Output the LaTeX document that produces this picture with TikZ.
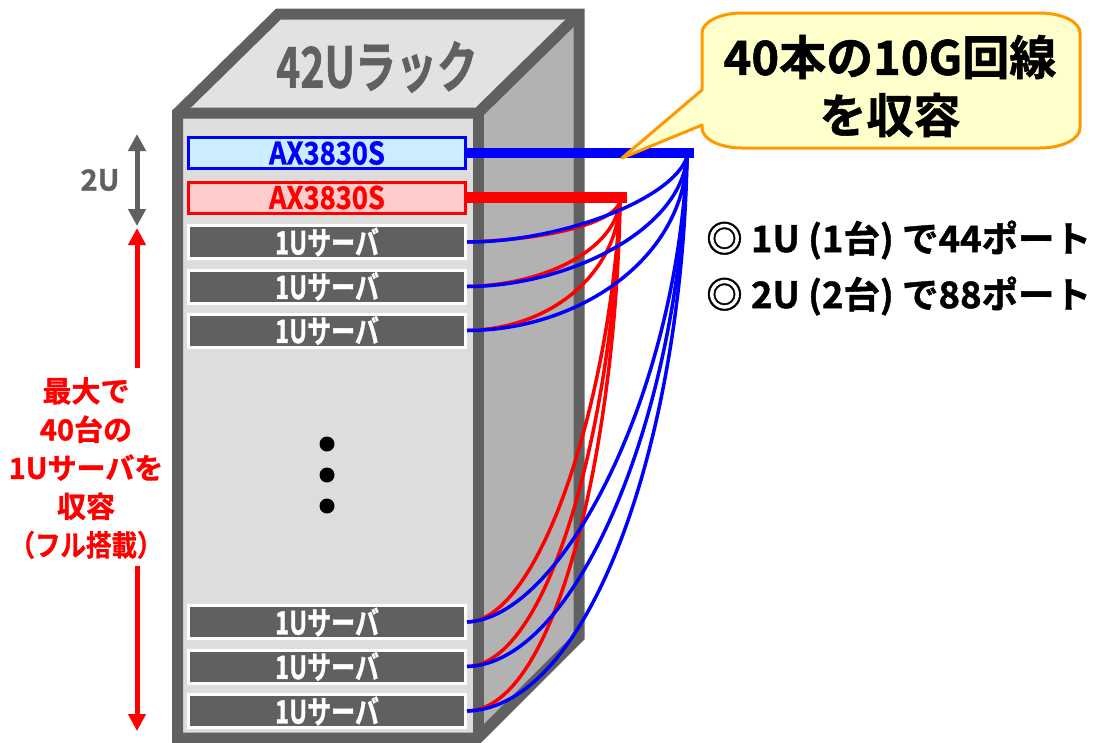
\documentclass[tikz,border=0pt]{standalone}
\usepackage{fontspec}
\newfontfamily\jpb{Noto Sans CJK JP Bold}[FakeBold=1.2]
\usetikzlibrary{arrows.meta}
\definecolor{dk}{RGB}{96,96,96}
\definecolor{frontc}{RGB}{221,221,221}
\definecolor{topc}{RGB}{226,226,226}
\definecolor{sidec}{RGB}{178,178,178}
\definecolor{axblue}{RGB}{0,0,255}
\definecolor{axbluefill}{RGB}{204,236,255}
\definecolor{axred}{RGB}{255,0,0}
\definecolor{axredfill}{RGB}{255,204,204}
\definecolor{callfill}{RGB}{255,255,204}
\definecolor{callline}{RGB}{255,153,0}
\begin{document}
\begin{tikzpicture}[x=1pt,y=-1pt,
  server/.style={draw=white, line width=3pt, fill=dk, minimum width=277pt, minimum height=33pt, inner sep=0pt, text=white, font=\jpb\fontsize{32}{32}\selectfont},
  axbox/.style={line width=3pt, minimum width=277pt, minimum height=31pt, inner sep=0pt, font=\jpb\fontsize{31}{31}\selectfont},
  cable/.style={line width=3.5pt},
  bar/.style={line width=10.5pt},
  dimarrow/.style={line width=5pt},
  callout/.style={draw=callline, fill=callfill, line width=3pt, line join=round},
  rackline/.style={draw=dk, line width=11pt, line join=miter},
  bigtext/.style={font=\jpb\fontsize{47}{47}\selectfont, text=black, inner sep=0pt},
  sidetext/.style={font=\jpb\fontsize{36.5}{36.5}\selectfont, text=black, inner sep=0pt, anchor=west}
]
\useasboundingbox (0,0) rectangle (1097,742);
\fill[white] (0,0) rectangle (1097,742);

% rack
\fill[frontc] (177.5,113) rectangle (478,738);
\fill[sidec] (478,113) -- (579,14) -- (579,637) -- (478,738) -- cycle;
\fill[topc] (177.5,113) -- (278.5,14) -- (579,14) -- (478,113) -- cycle;
\draw[rackline] (177.5,738) -- (177.5,113) -- (278.5,14) -- (579,14) -- (579,637) -- (478,738) -- cycle;
\draw[rackline] (177.5,113) -- (478,113) -- (579,14);
\draw[rackline] (478,113) -- (478,738);
\node[font=\jpb\fontsize{56}{56}\selectfont, text=dk, inner sep=0pt] (racklabel) at (377,67) {\scalebox{0.73}[1]{42Uラック}};

% switches
\node[axbox, draw=axblue, fill=axbluefill, text=axblue] (ax1) at (327,153) {\scalebox{0.88}[1]{AX3830S}};
\node[axbox, draw=axred, fill=axredfill, text=axred] (ax2) at (327,197.5) {\scalebox{0.88}[1]{AX3830S}};

% servers
\node[server] (s1) at (327,242) {\scalebox{0.75}[1]{1Uサーバ}};
\node[server] (s2) at (327,286.5) {\scalebox{0.75}[1]{1Uサーバ}};
\node[server] (s3) at (327,330.5) {\scalebox{0.75}[1]{1Uサーバ}};
\node[server] (s4) at (327,622) {\scalebox{0.75}[1]{1Uサーバ}};
\node[server] (s5) at (327,666.5) {\scalebox{0.75}[1]{1Uサーバ}};
\node[server] (s6) at (327,711) {\scalebox{0.75}[1]{1Uサーバ}};

% dots
\fill[black] (327,444) circle[radius=7.5pt];
\fill[black] (327,475) circle[radius=7.5pt];
\fill[black] (327,506) circle[radius=7.5pt];

% hubs
\coordinate (bhub) at (687,157);
\coordinate (rhub) at (620,202);
\coordinate (bend) at (694,153);
\coordinate (rend) at (627,197.5);

% red cables
\draw[cable, axred] (rhub) .. controls (612,225) and (540,240) .. (s1.east);
\draw[cable, axred] (rhub) .. controls (614,250) and (545,285) .. (s2.east);
\draw[cable, axred] (rhub) .. controls (616,275) and (550,329) .. (s3.east);
\draw[cable, axred] (rhub) .. controls (610,400) and (540,620) .. (s4.east);
\draw[cable, axred] (rhub) .. controls (613,420) and (550,664) .. (s5.east);
\draw[cable, axred] (rhub) .. controls (616,440) and (558,709) .. (s6.east);

% blue cables
\draw[cable, axblue] (bhub) .. controls (672,200) and (560,242) .. (s1.east);
\draw[cable, axblue] (bhub) .. controls (680,232) and (565,286.5) .. (s2.east);
\draw[cable, axblue] (bhub) .. controls (683,262) and (575,330.5) .. (s3.east);
\draw[cable, axblue] (bhub) .. controls (676,400) and (560,618) .. (s4.east);
\draw[cable, axblue] (bhub) .. controls (679,420) and (575,664) .. (s5.east);
\draw[cable, axblue] (bhub) .. controls (682,440) and (590,708) .. (s6.east);

% bars
\draw[bar, axblue] (ax1.east) -- (bend);
\draw[bar, axred] (ax2.east) -- (rend);

% callout
\draw[callout] (702,90) -- (702,33)
  arc[start angle=180,end angle=90,x radius=40pt,y radius=20pt] -- (1040,13)
  arc[start angle=90,end angle=0,x radius=40pt,y radius=20pt] -- (1080,128)
  arc[start angle=0,end angle=-90,x radius=40pt,y radius=20pt] -- (742,148)
  arc[start angle=-90,end angle=-180,x radius=40pt,y radius=20pt] -- (702,125) -- (622,158) -- cycle;
\node[bigtext] (call1) at (890,57) {40本の10G回線};
\node[bigtext] (call2) at (890,115) {を収容};

% side notes
\node[sidetext] (note1) at (706,240) {◎ 1U (1台) で44ポート};
\node[sidetext] (note2) at (706,296) {◎ 2U (2台) で88ポート};

% dimension arrows
\coordinate (ga) at (137,134);
\coordinate (gb) at (137,226);
\draw[dimarrow, dk, {Triangle[width=17pt,length=17pt]}-{Triangle[width=17pt,length=17pt]}] (ga) -- (gb);
\node[font=\jpb\fontsize{29}{29}\selectfont, text=dk, inner sep=0pt] (twou) at (100,180) {2U};

\coordinate (ra) at (137,228);
\coordinate (rb) at (137,368);
\coordinate (rc) at (137,566);
\coordinate (rd) at (137,731);
\draw[dimarrow, axred, -{Triangle[width=17pt,length=17pt]}] (rb) -- (ra);
\draw[dimarrow, axred, -{Triangle[width=17pt,length=17pt]}] (rc) -- (rd);
\node[align=center, text=axred, font=\jpb\fontsize{29}{38.5}\selectfont, inner sep=0pt] (redtxt) at (86,468) {最大で\\40台の\\1Uサーバを\\収容\\\scalebox{0.88}[1]{（フル搭載）}};
\end{tikzpicture}
\end{document}
